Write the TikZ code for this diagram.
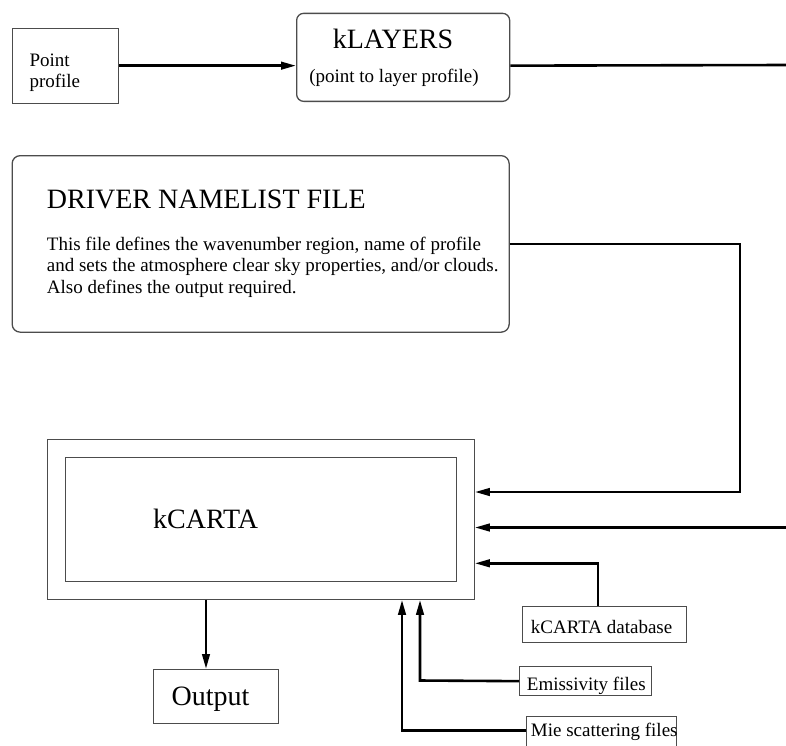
\documentclass[tikz,border=0pt]{standalone}
\usepackage{fontspec}
\setmainfont{Liberation Serif}
\usetikzlibrary{arrows.meta,positioning}
\tikzset{
  box/.style={
      draw=black!70,
      line width=1.3pt,
      rectangle,
      inner sep=0pt,
      anchor=north west,
  },
  rbox/.style={
      box,
      rounded corners=7pt,
  },
  wire/.style={
      line width=2.6pt,
  },
  conn/.style={
      wire,
      -{Triangle[length=15pt,width=7.5pt]},
  },
  txt/.style={
      inner sep=0pt,
      anchor=base west,
      font=\fontsize{19}{21}\selectfont,
  },
  head/.style={
      txt,
      font=\fontsize{28}{34}\selectfont,
  }
}

\begin{document}
\begin{tikzpicture}[x=1pt,y=-1pt]
    \useasboundingbox (0,0) rectangle (786,745);
    % profile -> kLAYERS
    \node[box, minimum width=106pt, minimum height=75pt] (pt) at (12,27.5) {};
    \node[txt] (pt1) at (29.3,66.7) {Point};
    \node[txt] (pt2) at (29.3,87.3) {profile};
    \node[rbox, minimum width=213pt, minimum height=88pt] (kl) at (296,12.7) {};
    \node[head, anchor=base] (klt) at (393,48.3) {kLAYERS};
    \node[txt, anchor=base] (kls) at (394,82) {(point to layer profile)};
    \coordinate (rt) at (786,65);
    \draw[conn] (pt.east) -- (pt.east -| kl.west);
    \draw[wire] (pt.east -| kl.east) -- (rt);
    % driver namelist
    \node[rbox, rounded corners=8pt, minimum width=497pt, minimum height=176.5pt] (drv) at (11.5,155) {};
    \node[head] (drvt) at (46.7,208.5) {DRIVER NAMELIST FILE};
    \node[txt] (drv1) at (46.7,250) {This file defines the wavenumber region, name of profile};
    \node[txt] (drv2) at (46.7,271.5) {and sets the atmosphere clear sky properties, and/or clouds.};
    \node[txt] (drv3) at (46.7,293) {Also defines the output required.};
    % kCARTA
    \node[box, minimum width=427pt, minimum height=160pt] (outer) at (46.5,438.5) {};
    \node[box, minimum width=391pt, minimum height=124.5pt] (inner) at (64.5,456.5) {};
    \node[head] (kct) at (153,528) {kCARTA};
    \node[box, minimum width=125pt, minimum height=54pt] (out) at (152.5,669) {};
    \node[head] (outt) at (171.5,705) {Output};
    % input files
    \node[box, minimum width=164pt, minimum height=36pt] (db) at (522,605.5) {};
    \node[txt] (dbt) at (530.7,633) {kCARTA database};
    \node[box, minimum width=132pt, minimum height=29pt] (emis) at (519,666) {};
    \node[txt] (emist) at (526.7,690.7) {Emissivity files};
    \node[box, minimum width=150pt, minimum height=31pt] (mie) at (526,716) {};
    \node[txt] (miet) at (530.7,736.7) {Mie scattering files};
    % connectors
    \coordinate (k1) at (740,492);
    \coordinate (k2) at (786,527.5);
    \coordinate (k3) at (598,563.3);
    \coordinate (k4) at (420,680.5);
    \coordinate (k5) at (402,730.5);
    \coordinate (k6) at (206,598.5);
    \draw[conn] (drv.east) -| (k1) -- (k1 -| outer.east);
    \draw[conn] (k2) -- (k2 -| outer.east);
    \draw[conn] (db.north -| k3) -- (k3) -- (k3 -| outer.east);
    \draw[conn] (emis.west) -- (k4) -- (k4 |- outer.south);
    \draw[conn] (mie.west |- k5) -- (k5) -- (k5 |- outer.south);
    \draw[conn] (k6 |- outer.south) -- (k6 |- out.north);
\end{tikzpicture}
\end{document}
